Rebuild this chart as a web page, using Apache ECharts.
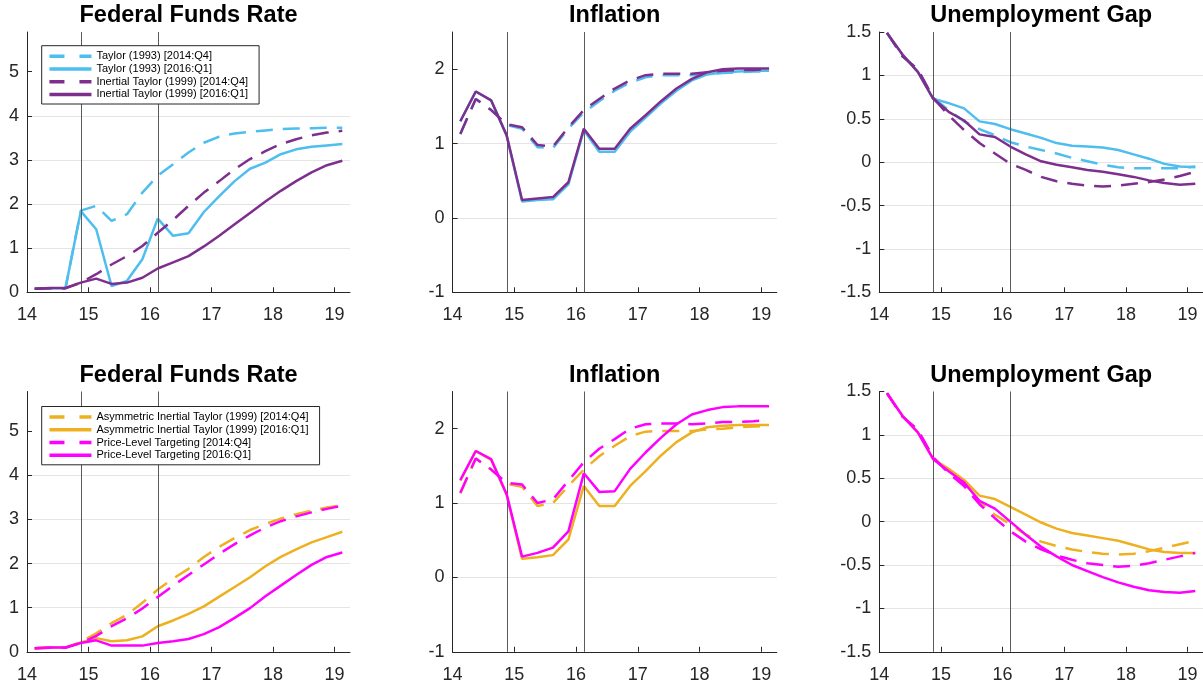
<!DOCTYPE html>
<html>
<head>
<meta charset="utf-8">
<script src="https://cdn.jsdelivr.net/npm/echarts@6.0.0/dist/echarts.min.js"></script>
<style>
html,body{margin:0;padding:0;background:#fff;}
#chart{width:1203px;height:687px;}
</style>
</head>
<body>
<div id="chart"></div>
<script>
// ---------------- DATA ----------------
const quarters = [14.125,14.375,14.625,14.875,15.125,15.375,15.625,15.875,16.125,16.375,16.625,16.875,17.125,17.375,17.625,17.875,18.125,18.375,18.625,18.875,19.125];
const vintageDates = [14.875, 16.125];

const xTicks = [14,15,16,17,18,19];
const ffrTicks = [0,1,2,3,4,5];
const infTicks = [-1,0,1,2];
const ugTicks = [-1.5,-1,-0.5,0,0.5,1,1.5];

const panelTitles = ['Federal Funds Rate','Inflation','Unemployment Gap','Federal Funds Rate','Inflation','Unemployment Gap'];

const topNames = ['Taylor (1993) [2014:Q4]','Taylor (1993) [2016:Q1]','Inertial Taylor (1999) [2014:Q4]','Inertial Taylor (1999) [2016:Q1]'];
const bottomNames = ['Asymmetric Inertial Taylor (1999) [2014:Q4]','Asymmetric Inertial Taylor (1999) [2016:Q1]','Price-Level Targeting [2014:Q4]','Price-Level Targeting [2016:Q1]'];

// Federal funds rate (top)
const taylorFFR_14Q4 = [0.08,0.09,0.09,1.85,1.96,1.62,1.77,2.26,2.64,2.90,3.17,3.39,3.53,3.60,3.64,3.67,3.70,3.71,3.72,3.73,3.73];
const taylorFFR_16Q1 = [0.08,0.09,0.09,1.84,1.43,0.14,0.26,0.75,1.67,1.28,1.34,1.82,2.18,2.52,2.80,2.94,3.13,3.24,3.30,3.33,3.36];
const inertFFR_14Q4  = [0.08,0.09,0.09,0.22,0.41,0.63,0.82,1.05,1.35,1.64,1.96,2.26,2.52,2.79,3.02,3.20,3.36,3.47,3.56,3.62,3.66];
const inertFFR_16Q1  = [0.08,0.10,0.10,0.22,0.31,0.19,0.22,0.33,0.54,0.68,0.82,1.04,1.28,1.54,1.80,2.06,2.30,2.52,2.72,2.88,2.98];

// Inflation (top)
const taylorINF_14Q4 = [1.13,1.60,1.45,1.25,1.20,0.95,0.94,1.20,1.42,1.57,1.71,1.82,1.89,1.92,1.92,1.92,1.93,1.95,1.96,1.97,1.97];
const taylorINF_16Q1 = [1.30,1.70,1.58,1.11,0.22,0.24,0.25,0.45,1.18,0.89,0.89,1.16,1.35,1.54,1.71,1.85,1.93,1.96,1.97,1.98,1.98];
const inertINF_14Q4  = [1.13,1.60,1.45,1.26,1.22,0.98,0.96,1.22,1.45,1.60,1.74,1.85,1.92,1.94,1.94,1.94,1.96,1.98,1.99,1.99,2.00];
const inertINF_16Q1  = [1.30,1.70,1.58,1.11,0.24,0.26,0.28,0.48,1.20,0.93,0.93,1.20,1.38,1.57,1.74,1.87,1.96,2.00,2.01,2.01,2.01];

// Unemployment gap (top)
const taylorUG_14Q4 = [1.49,1.22,1.07,0.74,0.60,0.47,0.38,0.31,0.23,0.18,0.14,0.10,0.05,0.01,-0.03,-0.06,-0.07,-0.07,-0.07,-0.07,-0.05];
const taylorUG_16Q1 = [1.49,1.24,1.04,0.73,0.68,0.62,0.47,0.44,0.38,0.33,0.28,0.22,0.19,0.18,0.17,0.14,0.09,0.04,-0.02,-0.05,-0.06];
const inertUG_14Q4  = [1.49,1.22,1.07,0.74,0.54,0.37,0.22,0.10,-0.02,-0.09,-0.17,-0.22,-0.25,-0.27,-0.28,-0.27,-0.25,-0.23,-0.20,-0.16,-0.11];
const inertUG_16Q1  = [1.49,1.24,1.04,0.73,0.58,0.48,0.32,0.29,0.18,0.09,0.01,-0.03,-0.06,-0.09,-0.11,-0.14,-0.17,-0.21,-0.24,-0.26,-0.25];

// Federal funds rate (bottom)
const asymFFR_14Q4 = [0.08,0.09,0.09,0.22,0.42,0.65,0.84,1.11,1.41,1.66,1.88,2.15,2.38,2.58,2.76,2.90,3.02,3.12,3.20,3.27,3.32];
const asymFFR_16Q1 = [0.08,0.10,0.10,0.21,0.31,0.24,0.26,0.35,0.58,0.71,0.86,1.03,1.25,1.47,1.69,1.94,2.15,2.32,2.48,2.60,2.72];
const pltFFR_14Q4  = [0.08,0.09,0.09,0.20,0.36,0.58,0.76,0.98,1.24,1.50,1.74,1.98,2.22,2.44,2.64,2.82,2.96,3.07,3.16,3.24,3.31];
const pltFFR_16Q1  = [0.08,0.10,0.10,0.20,0.26,0.14,0.14,0.14,0.20,0.24,0.29,0.40,0.56,0.77,0.99,1.26,1.50,1.74,1.97,2.15,2.25];

// Inflation (bottom)
const asymINF_14Q4 = [1.13,1.60,1.45,1.26,1.22,0.96,1.00,1.23,1.45,1.63,1.77,1.90,1.96,1.97,1.97,1.97,1.99,2.00,2.02,2.03,2.04];
const asymINF_16Q1 = [1.30,1.70,1.58,1.11,0.25,0.27,0.30,0.51,1.23,0.96,0.96,1.23,1.43,1.64,1.82,1.95,2.02,2.04,2.05,2.05,2.05];
const pltINF_14Q4  = [1.14,1.60,1.45,1.27,1.25,1.00,1.05,1.30,1.55,1.73,1.86,2.00,2.06,2.07,2.07,2.06,2.07,2.09,2.09,2.10,2.12];
const pltINF_16Q1  = [1.31,1.70,1.59,1.12,0.28,0.33,0.40,0.62,1.40,1.15,1.16,1.46,1.68,1.88,2.06,2.19,2.25,2.29,2.30,2.30,2.30];

// Unemployment gap (bottom)
const asymUG_14Q4 = [1.48,1.21,1.06,0.74,0.57,0.42,0.22,0.08,-0.03,-0.15,-0.23,-0.28,-0.32,-0.35,-0.37,-0.38,-0.37,-0.34,-0.30,-0.26,-0.22];
const asymUG_16Q1 = [1.48,1.22,1.03,0.72,0.61,0.48,0.30,0.26,0.17,0.08,-0.01,-0.08,-0.13,-0.16,-0.19,-0.22,-0.27,-0.32,-0.35,-0.36,-0.36];
const pltUG_14Q4  = [1.48,1.21,1.06,0.74,0.56,0.41,0.20,0.04,-0.11,-0.23,-0.32,-0.39,-0.44,-0.48,-0.50,-0.52,-0.51,-0.48,-0.44,-0.40,-0.36];
const pltUG_16Q1  = [1.48,1.22,1.03,0.72,0.58,0.45,0.24,0.15,0.00,-0.15,-0.29,-0.40,-0.50,-0.57,-0.64,-0.70,-0.75,-0.79,-0.81,-0.82,-0.80];

// ---------------- STYLE ----------------
const FONT = '"Liberation Sans", Arial, Helvetica, sans-serif';
const AXIS_COLOR = '#262626';
const colors = { taylor:'#4DBEEE', inertial:'#7E2F8E', asym:'#EDB120', plt:'#FF00FF' };
const DASH = [17, 10];
const LEGEND_DASH = [15, 15];
const LW = 2.5;

const gridLefts = [27, 452.6, 879.3];
const gridWidths = [323, 324.2, 323.7];
const gridTops = [32, 391.5];
const gridHeight = 260.3;

const yConf = [
  {min:0, max:5.9, interval:1, ticks:ffrTicks},
  {min:-1, max:2.5, interval:1, ticks:infTicks},
  {min:-1.5, max:1.5, interval:0.5, ticks:ugTicks}
];

const pair = arr => arr.map((v,i) => [quarters[i], v]);

const panelSeries = [
  [[topNames[0], taylorFFR_14Q4, colors.taylor, true],[topNames[1], taylorFFR_16Q1, colors.taylor, false],[topNames[2], inertFFR_14Q4, colors.inertial, true],[topNames[3], inertFFR_16Q1, colors.inertial, false]],
  [[topNames[0], taylorINF_14Q4, colors.taylor, true],[topNames[1], taylorINF_16Q1, colors.taylor, false],[topNames[2], inertINF_14Q4, colors.inertial, true],[topNames[3], inertINF_16Q1, colors.inertial, false]],
  [[topNames[0], taylorUG_14Q4, colors.taylor, true],[topNames[1], taylorUG_16Q1, colors.taylor, false],[topNames[2], inertUG_14Q4, colors.inertial, true],[topNames[3], inertUG_16Q1, colors.inertial, false]],
  [[bottomNames[0], asymFFR_14Q4, colors.asym, true],[bottomNames[1], asymFFR_16Q1, colors.asym, false],[bottomNames[2], pltFFR_14Q4, colors.plt, true],[bottomNames[3], pltFFR_16Q1, colors.plt, false]],
  [[bottomNames[0], asymINF_14Q4, colors.asym, true],[bottomNames[1], asymINF_16Q1, colors.asym, false],[bottomNames[2], pltINF_14Q4, colors.plt, true],[bottomNames[3], pltINF_16Q1, colors.plt, false]],
  [[bottomNames[0], asymUG_14Q4, colors.asym, true],[bottomNames[1], asymUG_16Q1, colors.asym, false],[bottomNames[2], pltUG_14Q4, colors.plt, true],[bottomNames[3], pltUG_16Q1, colors.plt, false]]
];

const grids = [], xAxes = [], yAxes = [], series = [], graphics = [];

for (let p = 0; p < 6; p++) {
  const row = Math.floor(p / 3), col = p % 3;
  grids.push({ left: gridLefts[col], top: gridTops[row], width: gridWidths[col], height: gridHeight, containLabel: false });
  xAxes.push({
    type: 'value', gridIndex: p, min: 14, max: 19.25, interval: 1,
    axisLine: { show: true, onZero: false, lineStyle: { color: AXIS_COLOR, width: 1 } },
    axisTick: { show: true, inside: true, length: 5, customValues: xTicks, lineStyle: { color: AXIS_COLOR } },
    axisLabel: { customValues: xTicks, fontSize: 18, color: AXIS_COLOR, fontFamily: FONT, margin: 14 },
    splitLine: { show: false }
  });
  const yc = yConf[col];
  yAxes.push({
    type: 'value', gridIndex: p, min: yc.min, max: yc.max, interval: yc.interval,
    axisLine: { show: true, onZero: false, lineStyle: { color: AXIS_COLOR, width: 1 } },
    axisTick: { show: true, inside: true, length: 5, customValues: yc.ticks, lineStyle: { color: AXIS_COLOR } },
    axisLabel: { customValues: yc.ticks, fontSize: 18, color: AXIS_COLOR, fontFamily: FONT, margin: 8 },
    splitLine: { show: true, showMinLine: false, showMaxLine: false, lineStyle: { color: '#e4e4e4', width: 1 } }
  });
  panelSeries[p].forEach((s, k) => {
    const ser = {
      type: 'line', name: s[0], xAxisIndex: p, yAxisIndex: p,
      data: pair(s[1]), symbol: 'none', showSymbol: false, smooth: false,
      silent: true, animation: false, z: 3 + k,
      lineStyle: { color: s[2], width: LW, type: s[3] ? DASH : 'solid', cap: 'butt' },
      itemStyle: { color: s[2] }
    };
    if (k === 0) {
      ser.markLine = {
        silent: true, symbol: ['none','none'], animation: false,
        label: { show: false },
        lineStyle: { color: '#5a5a5a', width: 1, type: 'solid' },
        emphasis: { disabled: true },
        data: vintageDates.map(d => ({ xAxis: d }))
      };
    }
    series.push(ser);
  });
  graphics.push({
    type: 'text',
    x: gridLefts[col] + gridWidths[col] / 2, y: gridTops[row] - 16,
    style: { text: panelTitles[p], align: 'center', verticalAlign: 'middle', font: 'bold 23.5px ' + FONT, fill: '#000' }
  });
}

const legendData = names => names.map((n, i) => ({
  name: n,
  lineStyle: { width: 3.5, type: (i % 2 === 0) ? LEGEND_DASH : 'solid' }
}));

const legendBase = {
  orient: 'vertical', backgroundColor: '#fff', borderColor: AXIS_COLOR, borderWidth: 1,
  padding: [5, 11, 4, 6], itemWidth: 42, itemHeight: 14, itemGap: 1.5,
  textStyle: { fontSize: 11, fontFamily: FONT, color: '#000' },
  lineStyle: { width: 3.5 },
  itemStyle: { opacity: 0 }, selectedMode: false, z: 10
};

const option = {
  animation: false,
  backgroundColor: '#fff',
  grid: grids, xAxis: xAxes, yAxis: yAxes, series: series,
  legend: [
    Object.assign({}, legendBase, { left: 41.7, top: 45.7, data: legendData(topNames) }),
    Object.assign({}, legendBase, { left: 41.7, top: 406.5, data: legendData(bottomNames) })
  ],
  graphic: graphics
};

const chart = echarts.init(document.getElementById('chart'), null, { renderer: 'canvas' });
chart.setOption(option);
</script>
</body>
</html>
